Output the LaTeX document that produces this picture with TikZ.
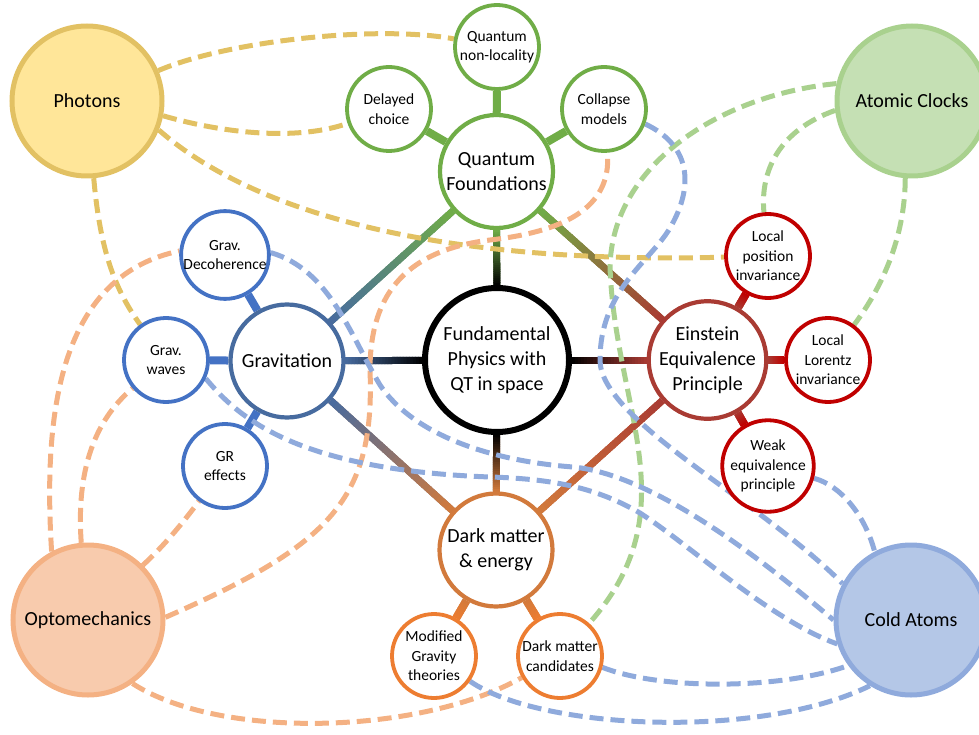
\documentclass[tikz,border=0pt]{standalone}
\usepackage{fontspec}
\setmainfont{Carlito}
\usetikzlibrary{calc}
\pgfdeclarelayer{bg}
\pgfsetlayers{bg,main}
\definecolor{qfG}{HTML}{70AD47}
\definecolor{grB}{HTML}{476B9F}
\definecolor{eepR}{HTML}{A93B33}
\definecolor{dmO}{HTML}{D27A3C}
\definecolor{smB}{HTML}{4472C4}
\definecolor{smR}{HTML}{C00000}
\definecolor{smO}{HTML}{ED7D31}
\definecolor{phoF}{HTML}{FFE699}
\definecolor{phoD}{HTML}{E2C163}
\definecolor{acF}{HTML}{C5E0B4}
\definecolor{acD}{HTML}{A9D18E}
\definecolor{opF}{HTML}{F8CBAD}
\definecolor{opD}{HTML}{F4B183}
\definecolor{caF}{HTML}{B4C7E7}
\definecolor{caD}{HTML}{8FAADC}
\newcommand\gradconn[5]{%
  \draw[line width=#5,color=#3!50!#4] (#1) -- (#2);
  \path (#1) -- (#2) coordinate[pos=0] (gS) coordinate[pos=1] (gE);
  \foreach \k in {0,...,24}{%
    \pgfmathsetmacro\ta{\k/25}%
    \pgfmathsetmacro\tb{(\k+1.3)/25}%
    \pgfmathtruncatemacro\pc{100-4*\k-2}%
    \draw[line width=#5,color=#3!\pc!#4] ($(gS)!\ta!(gE)$) -- ($(gS)!\tb!(gE)$);
  }%
}
\begin{document}
\begin{tikzpicture}[x=1pt,y=-1pt,
  corner/.style={circle,draw,line width=5pt,minimum size=150pt,inner sep=0pt,font=\fontsize{20}{25}\selectfont},
  hub/.style={circle,draw=black,fill=white,line width=6pt,minimum size=144pt,inner sep=0pt,align=center,font=\fontsize{20}{25}\selectfont},
  mid/.style={circle,fill=white,line width=4.2pt,minimum size=113pt,inner sep=0pt,align=center,font=\fontsize{20}{25}\selectfont},
  small/.style={circle,fill=white,line width=3.8pt,minimum size=84pt,inner sep=0pt,align=center,font=\fontsize{15.5}{19.5}\selectfont},
  link/.style={line width=5pt,dash pattern=on 14pt off 7pt},
  stub/.style={line width=8pt}
]
\useasboundingbox (0,0) rectangle (979,735);

% corner nodes
\node[corner,draw=phoD,fill=phoF] (pho) at (87,101) {Photons};
\node[corner,draw=acD,fill=acF] (ac) at (912,101) {Atomic Clocks};
\node[corner,draw=opD,fill=opF] (opto) at (88,620) {Optomechanics};
\node[corner,draw=caD,fill=caF] (ca) at (911,620) {Cold Atoms};

% hub and main topics
\node[hub] (fp) at (497,360) {Fundamental\\Physics with\\QT in space};
\node[mid,draw=qfG] (qf) at (496.5,171.5) {Quantum\\Foundations};
\node[mid,draw=grB] (gr) at (287,361) {Gravitation};
\node[mid,draw=eepR] (eep) at (707.5,360) {Einstein\\Equivalence\\Principle};
\node[mid,draw=dmO] (dm) at (496,550) {Dark matter\\\& energy};

% sub topics
\node[small,draw=qfG] (qnl) at (497,47) {Quantum\\non-locality};
\node[small,draw=qfG] (dc) at (389,109) {Delayed\\choice};
\node[small,draw=qfG] (cm) at (604,109) {Collapse\\models};
\node[small,draw=smB] (gd) at (225,255) {Grav.\\Decoherence};
\node[small,draw=smB] (gw) at (166,360) {Grav.\\waves};
\node[small,draw=smB] (gre) at (225,466) {GR\\effects};
\node[small,draw=smR] (lpi) at (768,256) {Local\\position\\invariance};
\node[small,draw=smR] (lli) at (828,360) {Local\\Lorentz\\invariance};
\node[small,draw=smR] (wep) at (768,466) {Weak\\equivalence\\principle};
\node[small,draw=smO] (mg) at (434,656) {Modified\\Gravity\\theories};
\node[small,draw=smO] (dmc) at (560,656) {Dark matter\\candidates};

\begin{pgfonlayer}{bg}
% solid gradient connectors
\gradconn{fp}{qf}{black}{qfG}{7pt}
\gradconn{fp}{gr}{black}{grB}{7pt}
\gradconn{fp}{eep}{black}{eepR}{7pt}
\gradconn{fp}{dm}{black}{dmO}{7pt}
\gradconn{qf}{gr}{qfG}{grB}{7pt}
\gradconn{qf}{eep}{qfG}{eepR}{7pt}
\gradconn{gr}{dm}{grB}{dmO}{7pt}
\gradconn{eep}{dm}{eepR}{dmO}{7pt}
% stubs
\draw[stub,qfG] (qf) -- (qnl);
\draw[stub,qfG] (qf) -- (dc);
\draw[stub,qfG] (qf) -- (cm);
\draw[stub,smB] (gr) -- (gd);
\draw[stub,smB] (gr) -- (gw);
\draw[stub,smB] (gr) -- (gre);
\gradconn{eep}{lpi}{eepR}{smR}{8pt}
\gradconn{eep}{lli}{eepR}{smR}{8pt}
\gradconn{eep}{wep}{eepR}{smR}{8pt}
\gradconn{dm}{mg}{dmO}{smO}{8pt}
\gradconn{dm}{dmc}{dmO}{smO}{8pt}
% dashed links: photons
\draw[link,phoD] (pho) .. controls (230,40) and (380,25) .. (qnl);
\draw[link,phoD] (pho.-11) .. controls (230,135) and (300,140) .. (dc);
\draw[link,phoD] (pho.-22) .. controls (250,210) and (430,265) .. (lpi);
\draw[link,phoD] (pho.-85) .. controls (100,250) and (115,290) .. (gw);
% atomic clocks
\draw[link,acD] (ac.167) .. controls (720,95) and (612,165) .. (610,267) .. controls (615,410) and (690,510) .. (dmc);
\draw[link,acD] (ac.187) .. controls (780,130) and (760,170) .. (lpi);
\draw[link,acD] (ac.-95) .. controls (905,240) and (880,290) .. (lli);
% optomechanics
\draw[link,opD] (opto.118) .. controls (42,400) and (65,275) .. (gd.175);
\draw[link,opD] (opto.95) .. controls (76,470) and (95,420) .. (gw);
\draw[link,opD] (opto.45) .. controls (165,545) and (185,520) .. (gre);
\draw[link,opD] (opto.2) .. controls (330,545) and (375,500) .. (370,370) .. controls (370,290) and (410,250) .. (490,240) .. controls (560,232) and (612,210) .. (cm);
\draw[link,opD] (opto.-55) .. controls (220,740) and (420,735) .. (dmc);
% cold atoms
\draw[link,caD] (cm.-20) .. controls (690,145) and (695,185) .. (670,228) .. controls (650,262) and (600,290) .. (600,360) .. controls (600,420) and (760,500) .. (ca.152);
\draw[link,caD] (gd.3) .. controls (330,270) and (350,335) .. (380,385) .. controls (410,430) and (480,460) .. (573,467) .. controls (660,475) and (780,575) .. (ca.180);
\draw[link,caD] (gw.-25) .. controls (240,420) and (300,470) .. (490,477) .. controls (560,479) and (600,490) .. (640,513) .. controls (690,545) and (770,620) .. (ca.198);
\draw[link,caD] (dmc.-15) .. controls (660,690) and (780,690) .. (ca.216);
\draw[link,caD] (mg.-35) .. controls (540,730) and (760,740) .. (ca.238);
\draw[link,caD] (wep.-15) .. controls (840,485) and (865,515) .. (ca.118);
\end{pgfonlayer}
\end{tikzpicture}
\end{document}
